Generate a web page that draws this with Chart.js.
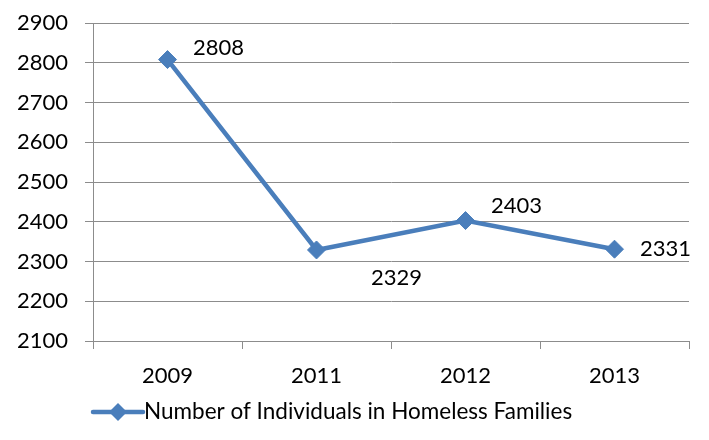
<!DOCTYPE html>
<html>
<head>
<meta charset="utf-8">
<script src="https://cdn.jsdelivr.net/npm/chart.js@4/dist/chart.umd.min.js"></script>
<style>
  html, body { margin: 0; padding: 0; background: #fff; }
  #wrap { width: 709px; height: 440px; position: relative; }
</style>
</head>
<body>
<div id="wrap"><canvas id="c" width="709" height="440"></canvas></div>
<script>
const categories = ["2009", "2011", "2012", "2013"];
const seriesLabel = "Number of Individuals in Homeless Families";
const seriesValues = [2808, 2329, 2403, 2331];
const yMin = 2100, yMax = 2900, yStep = 100;

const FONT = "Lato, 'Liberation Sans', sans-serif";
const LINE_COLOR = "#4A7EBB";
const GRID_COLOR = "#8C8C8C";

// data label offsets (pixels relative to point) to mimic reference placement
const labelOffsets = [[51, -12], [80, 28], [51, -15], [51, 0]];

const dataLabels = {
  id: "dataLabels",
  afterDatasetsDraw(chart) {
    const ctx = chart.ctx;
    const meta = chart.getDatasetMeta(0);
    ctx.save();
    ctx.font = "22px " + FONT;
    ctx.fillStyle = "#000";
    ctx.textAlign = "center";
    ctx.textBaseline = "middle";
    meta.data.forEach((pt, i) => {
      const o = labelOffsets[i];
      ctx.fillText(String(chart.data.datasets[0].data[i]), pt.x + o[0], pt.y + o[1]);
    });
    ctx.restore();
  }
};

const customLegend = {
  id: "customLegend",
  afterDraw(chart) {
    const ctx = chart.ctx;
    const ds = chart.data.datasets[0];
    ctx.save();
    ctx.font = "22.5px " + FONT;
    const lineW = 50;
    const x0 = chart.chartArea.left;
    const y = 412;
    ctx.strokeStyle = LINE_COLOR;
    ctx.lineWidth = 4.5;
    ctx.lineCap = "round";
    ctx.beginPath();
    ctx.moveTo(x0, y);
    ctx.lineTo(x0 + lineW, y);
    ctx.stroke();
    ctx.fillStyle = LINE_COLOR;
    const cx = x0 + lineW / 2, r = 9;
    ctx.beginPath();
    ctx.moveTo(cx, y - r); ctx.lineTo(cx + r, y); ctx.lineTo(cx, y + r); ctx.lineTo(cx - r, y);
    ctx.closePath(); ctx.fill();
    ctx.fillStyle = "#000";
    ctx.textAlign = "left";
    ctx.textBaseline = "middle";
    ctx.fillText(ds.label, x0 + lineW + 1, y);
    ctx.restore();
  }
};

new Chart(document.getElementById("c"), {
  type: "line",
  data: {
    labels: categories,
    datasets: [{
      label: seriesLabel,
      data: seriesValues,
      borderColor: LINE_COLOR,
      backgroundColor: LINE_COLOR,
      borderWidth: 4.5,
      pointStyle: "rectRot",
      pointRadius: 9,
      pointHoverRadius: 9,
      pointBackgroundColor: LINE_COLOR,
      pointBorderColor: LINE_COLOR,
      pointBorderWidth: 1,
      tension: 0
    }]
  },
  options: {
    responsive: false,
    animation: false,
    devicePixelRatio: 1,
    layout: { padding: { top: 23, right: 20, left: 0, bottom: 0 } },
    plugins: {
      legend: { display: false },
      tooltip: { enabled: false }
    },
    scales: {
      x: {
        type: "category",
        offset: true,
        afterFit(scale) { scale.height = 99; scale.paddingRight = 0; scale.paddingLeft = 0; },
        grid: {
          offset: true,
          drawOnChartArea: false,
          drawTicks: true,
          tickLength: 8,
          color: GRID_COLOR,
          lineWidth: 1
        },
        border: { display: true, color: GRID_COLOR, width: 1 },
        ticks: {
          color: "#000",
          font: { family: FONT, size: 22 },
          padding: 14,
          maxRotation: 0
        }
      },
      y: {
        min: yMin,
        max: yMax,
        afterFit(scale) { scale.width = 93; scale.paddingTop = 0; scale.paddingBottom = 0; },
        grid: {
          color: GRID_COLOR,
          lineWidth: 1,
          tickLength: 8,
          drawTicks: true
        },
        border: { display: true, color: GRID_COLOR, width: 1 },
        ticks: {
          stepSize: yStep,
          color: "#000",
          font: { family: FONT, size: 22 },
          padding: 17,
          callback: (v) => String(v)
        }
      }
    }
  },
  plugins: [dataLabels, customLegend]
});
</script>
</body>
</html>
